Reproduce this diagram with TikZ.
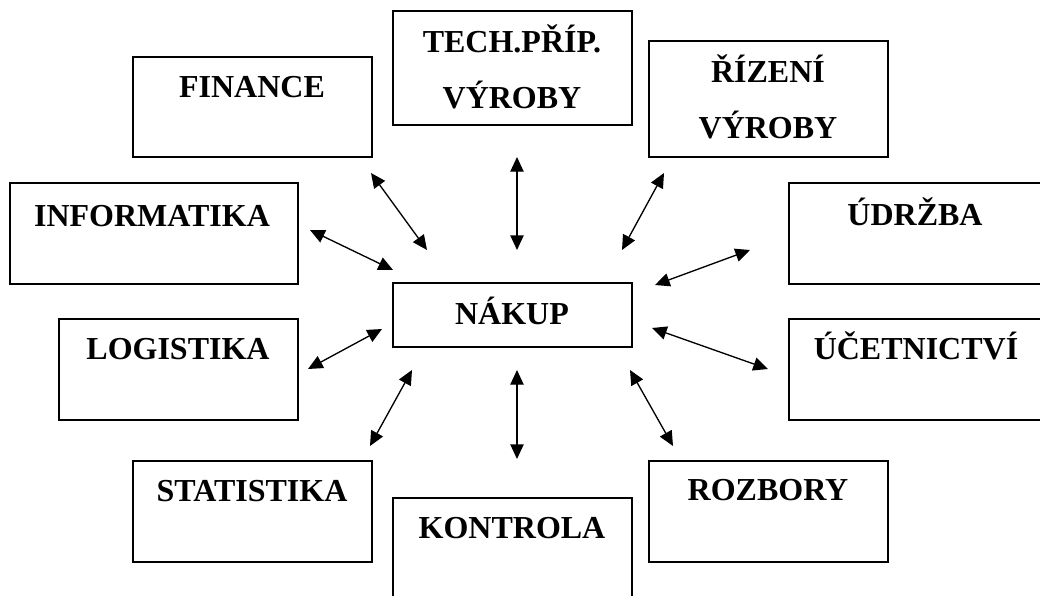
\documentclass[tikz,border=0pt]{standalone}
\usepackage{fontspec}
\setmainfont{Liberation Serif}
\usetikzlibrary{arrows.meta,fit}
\begin{document}
\begin{tikzpicture}[x=0.75pt,y=-0.75pt,
  box/.style={draw=black,line width=1.1pt,inner sep=0pt,fill=white},
  lbl/.style={anchor=base,inner sep=0pt,align=center,
    font=\fontsize{24}{42}\selectfont\bfseries},
  link/.style={line width=1pt,{Triangle[length=11pt,width=10pt]}-{Triangle[length=11pt,width=10pt]}}]
\path[use as bounding box] (0,0) rectangle (1040,596);
\clip (0,0) rectangle (1040,596);
% boxes
\node[box,fit={(133,57) (372,157)}] (fin) {};
\node[box,fit={(393,11) (632,125)}] (tech) {};
\node[box,fit={(649,41) (888,157)}] (riz) {};
\node[box,fit={(10,183) (298,284)}] (inf) {};
\node[box,fit={(789,183) (1042,284)}] (udr) {};
\node[box,fit={(393,283) (632,347)}] (nak) {};
\node[box,fit={(59,319) (298,420)}] (log) {};
\node[box,fit={(789,319) (1042,420)}] (uce) {};
\node[box,fit={(133,461) (372,562)}] (sta) {};
\node[box,fit={(649,461) (888,562)}] (roz) {};
\node[box,fit={(393,498) (632,620)}] (kon) {};
% labels
\node[lbl] (finT) at (252,97) {FINANCE};
\node[lbl] (techT) at (512,108) {TECH.PŘÍP.\\VÝROBY};
\node[lbl] (rizT) at (768,138) {ŘÍZENÍ\\VÝROBY};
\node[lbl] (infT) at (152,226) {INFORMATIKA};
\node[lbl] (udrT) at (915,225) {ÚDRŽBA};
\node[lbl] (nakT) at (512,324) {NÁKUP};
\node[lbl] (logT) at (178,359) {LOGISTIKA};
\node[lbl] (uceT) at (916,359) {ÚČETNICTVÍ};
\node[lbl] (staT) at (252,501) {STATISTIKA};
\node[lbl] (rozT) at (768,500) {ROZBORY};
\node[lbl] (konT) at (512,538) {KONTROLA};
% arrow ends
\coordinate (a1) at (371,173); \coordinate (b1) at (427,250);
\coordinate (a2) at (310,230); \coordinate (b2) at (393,270);
\coordinate (a3) at (517,157); \coordinate (b3) at (517,250);
\coordinate (a4) at (664,173); \coordinate (b4) at (622,250);
\coordinate (a5) at (750,250); \coordinate (b5) at (655,285);
\coordinate (a6) at (382,329); \coordinate (b6) at (308,369);
\coordinate (a7) at (412,370); \coordinate (b7) at (370,446);
\coordinate (a8) at (517,370); \coordinate (b8) at (517,459);
\coordinate (a9) at (652,328); \coordinate (b9) at (768,369);
\coordinate (a10) at (630,370); \coordinate (b10) at (673,446);
\foreach \i in {1,...,10} {\draw[link] (a\i) -- (b\i);}
\end{tikzpicture}
\end{document}
